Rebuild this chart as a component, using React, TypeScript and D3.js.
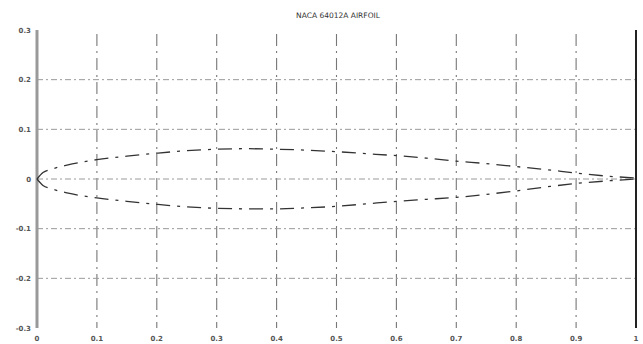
import { useEffect, useRef } from 'react'
import * as d3 from 'd3'

// airfoil surface coordinates
const chordX = [0, 0.01, 0.025, 0.05, 0.1, 0.15, 0.2, 0.25, 0.3, 0.35, 0.4, 0.45, 0.5, 0.55, 0.6, 0.65, 0.7, 0.75, 0.8, 0.85, 0.9, 0.95, 1]
const upperY = [0, 0.013, 0.02, 0.028, 0.039, 0.046, 0.052, 0.057, 0.06, 0.061, 0.06, 0.058, 0.055, 0.051, 0.047, 0.042, 0.036, 0.031, 0.025, 0.019, 0.012, 0.006, 0.002]
const lowerY = [0, -0.013, -0.02, -0.028, -0.038, -0.045, -0.051, -0.056, -0.059, -0.06, -0.06, -0.058, -0.055, -0.05, -0.045, -0.041, -0.037, -0.031, -0.024, -0.016, -0.009, -0.004, 0]

const xTicks = [0, 0.1, 0.2, 0.3, 0.4, 0.5, 0.6, 0.7, 0.8, 0.9, 1]
const xTickLabels = ['0', '0.1', '0.2', '0.3', '0.4', '0.5', '0.6', '0.7', '0.8', '0.9', '1']
const yTicks = [0.3, 0.2, 0.1, 0, -0.1, -0.2, -0.3]
const yTickLabels = ['0.3', '0.2', '0.1', '0', '-0.1', '-0.2', '-0.3']

const title = 'NACA 64012A AIRFOIL'

export default function App() {
  const svgRef = useRef<SVGSVGElement>(null)

  useEffect(() => {
    if (!svgRef.current) return
    const svg = d3.select(svgRef.current)
    svg.selectAll('*').remove()

    const x = d3.scaleLinear().domain([0, 1]).range([37, 636])
    const y = d3.scaleLinear().domain([-0.3, 0.3]).range([328, 30])

    svg.append('rect').attr('width', 643).attr('height', 344).attr('fill', '#ffffff')

    // grid
    svg.selectAll('.vgrid')
      .data(xTicks.slice(1, -1))
      .enter()
      .append('line')
      .attr('x1', d => x(d))
      .attr('x2', d => x(d))
      .attr('y1', y(0.3) + 4)
      .attr('y2', y(-0.3))
      .attr('stroke', '#777')
      .attr('stroke-width', 1.1)
      .attr('stroke-dasharray', '12,5,2,5')

    svg.selectAll('.hgrid')
      .data(yTicks.slice(1, -1))
      .enter()
      .append('line')
      .attr('x1', x(0))
      .attr('x2', x(1))
      .attr('y1', d => y(d))
      .attr('y2', d => y(d))
      .attr('stroke', '#9a9a9a')
      .attr('stroke-width', 1)
      .attr('stroke-dasharray', '6,3,2,3')

    // axes lines
    svg.append('line')
      .attr('x1', x(0)).attr('x2', x(0))
      .attr('y1', y(0.3)).attr('y2', y(-0.3))
      .attr('stroke', '#9a9a9a')
      .attr('stroke-width', 3)
    svg.append('line')
      .attr('x1', x(1)).attr('x2', x(1))
      .attr('y1', y(0.3)).attr('y2', y(-0.3))
      .attr('stroke', '#222')
      .attr('stroke-width', 2)

    // airfoil
    const line = d3.line<number>()
      .x((_, i) => x(chordX[i]))
      .curve(d3.curveMonotoneX)

    svg.append('path')
      .attr('d', line.y(d => y(d))(upperY))
      .attr('fill', 'none')
      .attr('stroke', '#333')
      .attr('stroke-width', 1.3)
      .attr('stroke-dasharray', '14,7,3,7')
    svg.append('path')
      .attr('d', line.y(d => y(d))(lowerY))
      .attr('fill', 'none')
      .attr('stroke', '#333')
      .attr('stroke-width', 1.3)
      .attr('stroke-dasharray', '14,7,3,7')

    // tick labels
    svg.selectAll('.xlab')
      .data(xTicks)
      .enter()
      .append('text')
      .attr('x', d => x(d))
      .attr('y', 341)
      .attr('text-anchor', 'middle')
      .attr('font-size', '7px')
      .attr('font-weight', 'bold')
      .attr('font-family', 'DejaVu Sans, sans-serif')
      .attr('fill', '#555')
      .text((_, i) => xTickLabels[i])

    svg.selectAll('.ylab')
      .data(yTicks)
      .enter()
      .append('text')
      .attr('x', 31)
      .attr('y', d => y(d) + 2.5)
      .attr('text-anchor', 'end')
      .attr('font-size', '7px')
      .attr('font-weight', 'bold')
      .attr('font-family', 'DejaVu Sans, sans-serif')
      .attr('fill', '#555')
      .text((_, i) => yTickLabels[i])

    svg.append('text')
      .attr('x', 338)
      .attr('y', 18)
      .attr('text-anchor', 'middle')
      .attr('font-size', '7.5px')
      .attr('font-family', 'DejaVu Sans, sans-serif')
      .attr('fill', '#333')
      .text(title)
  }, [])

  return (
    <svg
      ref={svgRef}
      width={643}
      height={344}
      style={{ position: 'absolute', left: 0, top: 0 }}
    />
  )
}
